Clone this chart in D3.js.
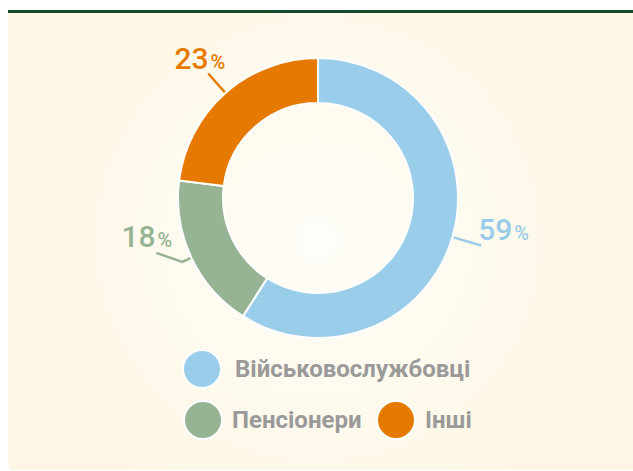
<!DOCTYPE html>
<html>
<head>
<meta charset="utf-8">
<script src="https://cdn.jsdelivr.net/npm/d3@7"></script>
<style>
  html, body { margin: 0; padding: 0; background: #fff; }
  svg { display: block; font-family: Roboto, "Noto Sans", sans-serif; }
</style>
</head>
<body>
<div class="graph-container"></div>
<script>
const categories = ["Військовослужбовці", "Пенсіонери", "Інші"];
const values = [59, 18, 23];
const colors = ["#99cdea", "#96b394", "#e67a00"];

const width = 633, height = 471;
const cx = 318, cy = 198;
const innerR = 95, outerR = 140;

const svg = d3.select('div.graph-container')
    .append('svg')
    .attr('width', width)
    .attr('height', height);

const defs = svg.append('defs');
const grad = defs.append('radialGradient')
    .attr('id', 'bg')
    .attr('gradientUnits', 'userSpaceOnUse')
    .attr('cx', 318).attr('cy', 240).attr('r', 300);
grad.append('stop').attr('offset', '0%').attr('stop-color', '#fffdf8');
grad.append('stop').attr('offset', '55%').attr('stop-color', '#fffaee');
grad.append('stop').attr('offset', '100%').attr('stop-color', '#fdf6e4');

// panel + top rule
svg.append('path')
    .attr('d', `M8,13 H${width} V${height - 1} H14 Q8,${height - 1} 8,${height - 7} Z`)
    .attr('fill', 'url(#bg)');
svg.append('rect')
    .attr('x', 8).attr('y', 10)
    .attr('width', width - 8).attr('height', 3)
    .attr('fill', '#174a2a');

const pie = d3.pie().sort(null).value(d => d);
const arcs = pie(values);
const arc = d3.arc().innerRadius(innerR).outerRadius(outerR);

const g = svg.append('g').attr('transform', `translate(${cx},${cy})`);

g.selectAll('path.slice')
    .data(arcs)
    .enter()
    .append('path')
    .attr('class', 'slice')
    .attr('d', arc)
    .attr('fill', (d, i) => colors[i])
    .attr('stroke', '#fff')
    .attr('stroke-width', 2);

// leader lines and labels
const pt = (a, r) => [r * Math.sin(a), -r * Math.cos(a)];
const mid = d => (d.startAngle + d.endAngle) / 2;

// per-slice label tweaks: line end radius, optional kink, text offset from line end
const labelCfg = [
    { r2: 170, kink: null, dx: -3, dy: -5, anchor: 'start' },
    { r2: 150, kink: [-26, -9], dx: 16, dy: -6, anchor: 'end' },
    { r2: 166, kink: null, dx: 17, dy: -4, anchor: 'end' }
];

arcs.forEach((d, i) => {
    const c = labelCfg[i];
    const a = mid(d);
    const p1 = pt(a, outerR + 1);
    const p2 = pt(a, c.r2);
    let pts = [p1, p2];
    if (c.kink) pts.push([p2[0] + c.kink[0], p2[1] + c.kink[1]]);
    g.append('path')
        .attr('d', d3.line()(pts))
        .attr('fill', 'none')
        .attr('stroke', colors[i])
        .attr('stroke-width', 2.5);
    const end = pts[pts.length - 1];
    const t = g.append('text')
        .attr('x', end[0] + c.dx)
        .attr('y', end[1] + c.dy)
        .attr('text-anchor', c.anchor)
        .attr('fill', colors[i])
        .attr('font-weight', 500);
    t.append('tspan').attr('font-size', 30).text(values[i]);
    t.append('tspan').attr('font-size', 20).attr('dx', 2).text('%');
});

// legend
const legendRows = [
    [{ i: 0, x: 202 }],
    [{ i: 1, x: 203 }, { i: 2, x: 396 }]
];
const rowY = [369, 420];
legendRows.forEach((row, ri) => {
    row.forEach(item => {
        svg.append('circle')
            .attr('cx', item.x)
            .attr('cy', rowY[ri])
            .attr('r', 19)
            .attr('fill', colors[item.i])
            .attr('stroke', '#fff')
            .attr('stroke-width', 2);
        svg.append('text')
            .attr('x', item.x + (ri === 0 ? 33 : 29))
            .attr('y', rowY[ri] + 8)
            .attr('fill', '#9a9a9a')
            .attr('font-size', 24)
            .attr('font-weight', 'bold')
            .text(categories[item.i]);
    });
});
</script>
</body>
</html>
